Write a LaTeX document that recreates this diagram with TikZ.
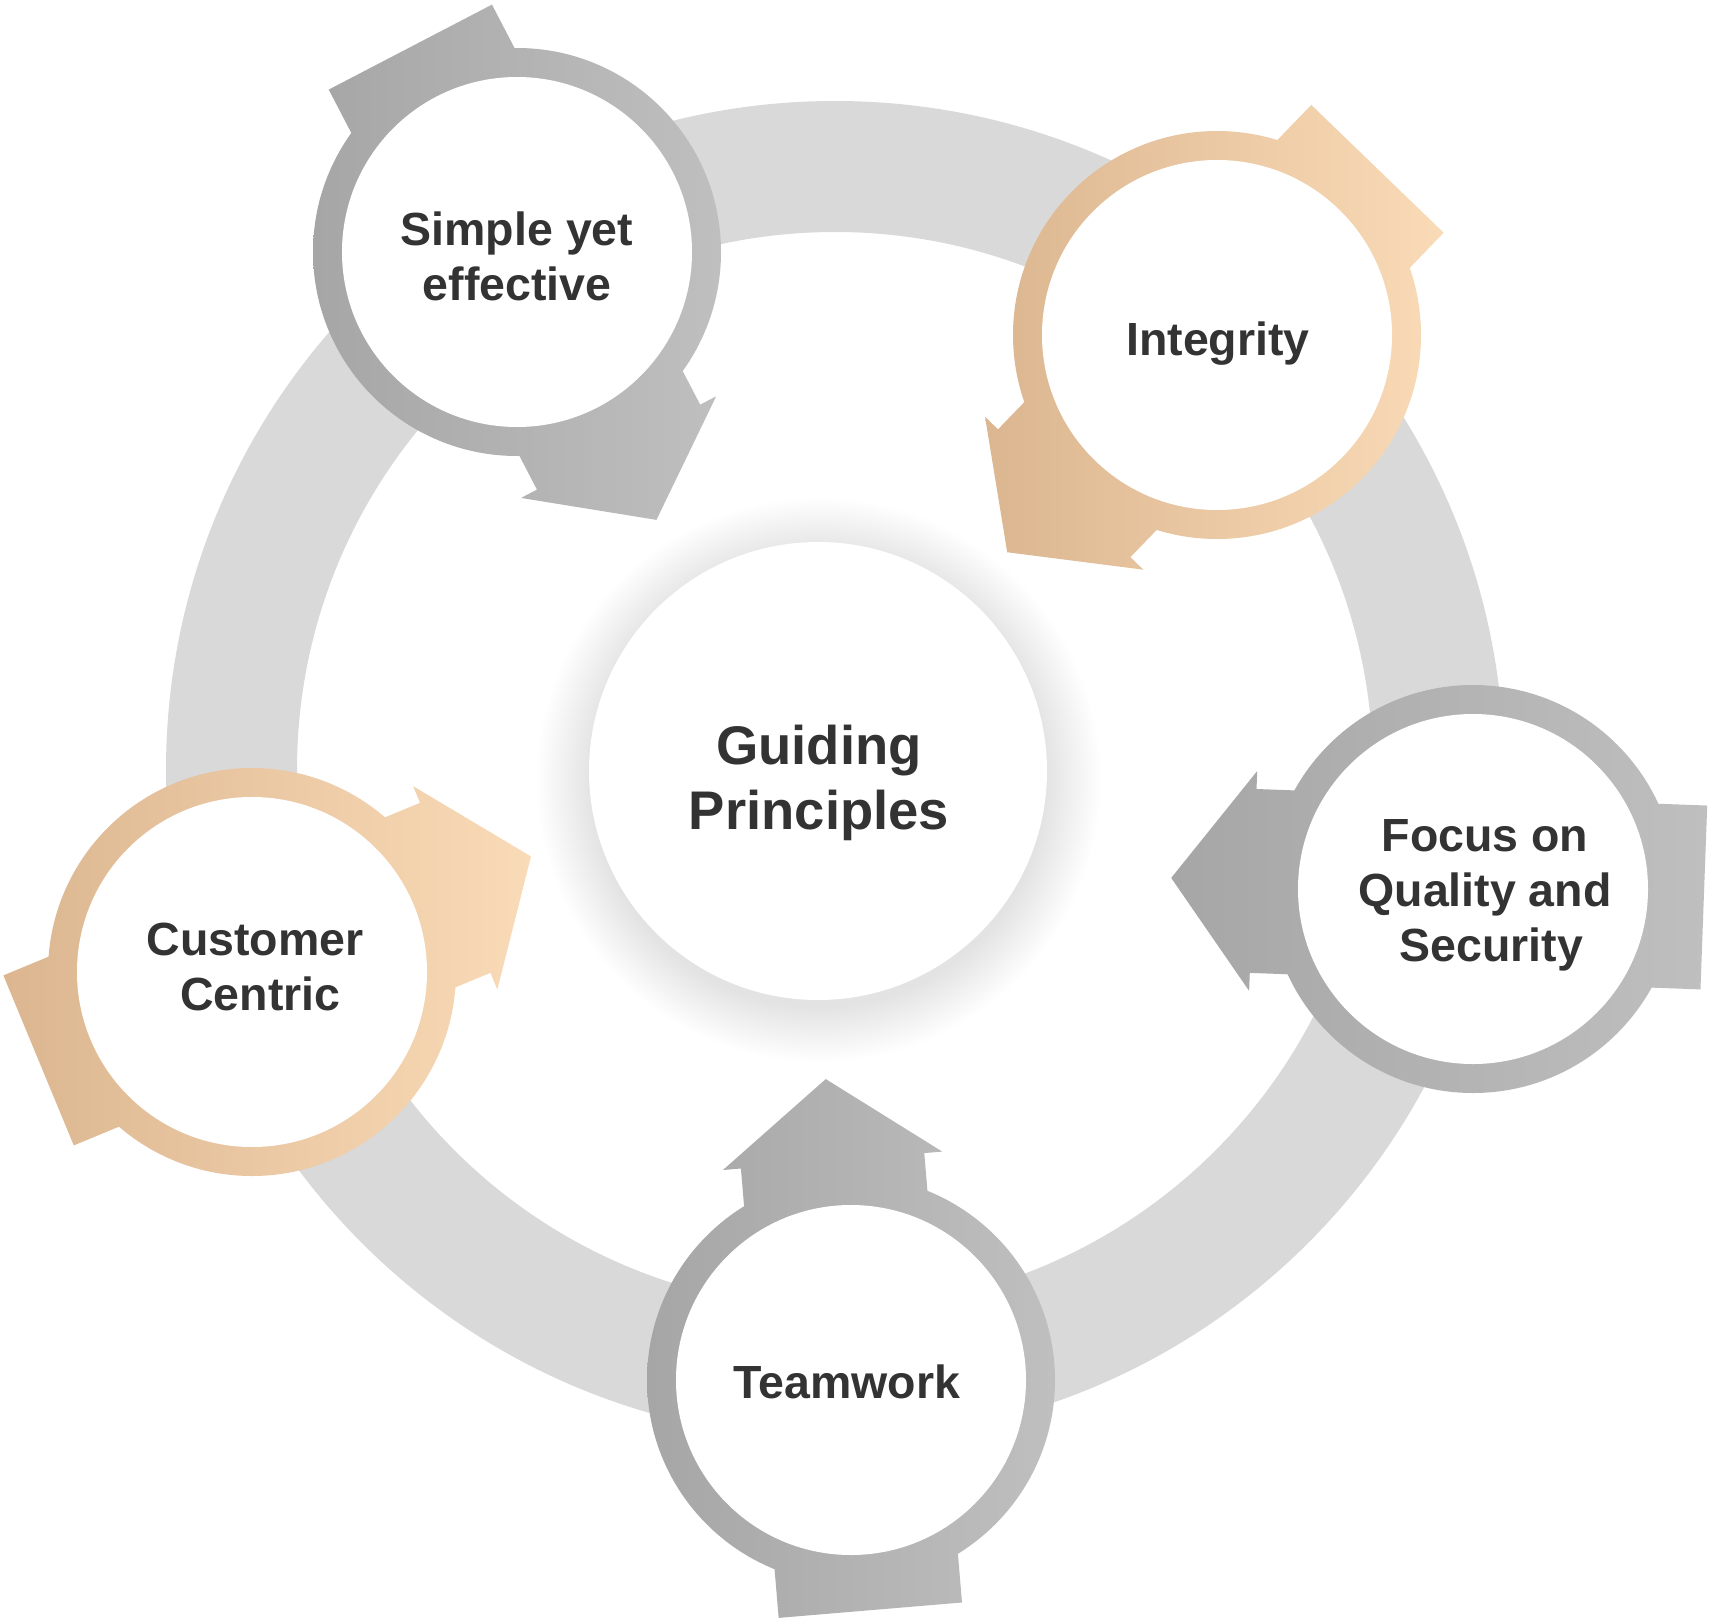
\documentclass[tikz,border=0pt]{standalone}
\usepackage{fontspec}
\setmainfont{Liberation Sans}
\usetikzlibrary{calc}
\definecolor{ringgray}{HTML}{D9D9D9}
\definecolor{grayL}{HTML}{A6A6A6}
\definecolor{grayR}{HTML}{BFBFBF}
\definecolor{tanL}{HTML}{DBB690}
\definecolor{tanR}{HTML}{FADBB7}
\definecolor{txt}{HTML}{333333}
\tikzset{
  whitedisc/.style={circle, fill=white, minimum size=350, inner sep=0pt},
  lbl/.style={font=\bfseries\fontsize{46.5}{55}\selectfont, text=txt, align=center, inner sep=0pt},
  biglbl/.style={font=\bfseries\fontsize{54.4}{65}\selectfont, text=txt, align=center, inner sep=0pt}
}
% #1 name, #2 x, #3 y (screen), #4 axis angle, #5 left colour, #6 right colour
\newcommand\principle[6]{%
  \coordinate (#1c) at (#2,-#3);
  \shade[left color=#5, right color=#6]
    ($(#1c)+(#4:-231)+(#4+90:-92)$) -- ($(#1c)+(#4:220)+(#4+90:-92)$) --
    ($(#1c)+(#4:220)+(#4+90:-110)$) -- ($(#1c)+(#4:302)$) --
    ($(#1c)+(#4:220)+(#4+90:110)$) -- ($(#1c)+(#4:220)+(#4+90:92)$) --
    ($(#1c)+(#4:-231)+(#4+90:92)$) -- cycle
    (#1c) circle[radius=204];
  \node[whitedisc] (#1) at (#1c) {};
}
\begin{document}
\begin{tikzpicture}[x=1pt,y=1pt]
\useasboundingbox (0,0) rectangle (1711,-1622);
\fill[white] (0,0) rectangle (1711,-1622);
% big ring
\fill[ringgray, even odd rule] (835,-770) circle[radius=669] circle[radius=538];
% central shadow
\foreach \i in {1,...,28} \fill[black, opacity=0.0055] (819,-780) circle[radius=226+2*\i];
\node[circle, fill=white, minimum size=458, inner sep=0pt] (center) at (818,-771) {};
\node[biglbl] (centerT) at (819,-782.5) {Guiding\\Principles};
% principles
\principle{simple}{517}{252}{-62.5}{grayL}{grayR}
\principle{integrity}{1217}{335}{-134}{tanL}{tanR}
\principle{focus}{1473}{889}{177.9}{grayL}{grayR}
\principle{team}{851}{1380}{94.8}{grayL}{grayR}
\principle{customer}{252}{972}{22.5}{tanL}{tanR}
\node[lbl] (simpleT) at (517,-256.2) {Simple yet\\effective};
\node[lbl, anchor=base] (integrityT) at (1218,-355) {Integrity};
\node[lbl] (focusT) at (1485,-895.1) {Focus on\\Quality and\\\hspace*{13pt}Security};
\node[lbl, anchor=base] (teamT) at (847,-1398) {Teamwork};
\node[lbl] (customerT) at (255,-966.7) {Customer\\\hspace*{11pt}Centric};
\end{tikzpicture}
\end{document}
